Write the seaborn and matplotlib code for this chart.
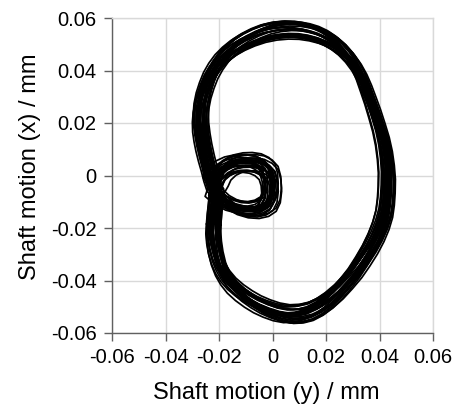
import numpy as np
import pandas as pd
import matplotlib
matplotlib.use("Agg")
import matplotlib.pyplot as plt
import seaborn as sns

# one revolution of the orbit: horizontal = y motion, vertical = x motion (mm)
orbit_y = [-0.0221, -0.0218, -0.0214, -0.0211,
           # small inner loop
           -0.0204, -0.0192, -0.0170, -0.0145, -0.0118, -0.0090, -0.0063, -0.0040, -0.0022, -0.0014,
           -0.0012, -0.0016, -0.0028, -0.0050, -0.0078, -0.0110, -0.0142, -0.0172, -0.0198,
           # big outer loop
           -0.0218, -0.0230, -0.0239, -0.0249, -0.0258, -0.0265, -0.0270, -0.0271, -0.0268, -0.0260,
           -0.0248, -0.0233, -0.0214, -0.0191, -0.0164, -0.0134, -0.0102, -0.0065, -0.0027, 0.0013,
           0.0054, 0.0092, 0.0128, 0.0163, 0.0197, 0.0229, 0.0259, 0.0286, 0.0309, 0.0329,
           0.0346, 0.0362, 0.0378, 0.0394, 0.0409, 0.0420, 0.0427, 0.0431, 0.0430, 0.0427,
           0.0421, 0.0408, 0.0390, 0.0367, 0.0340, 0.0311, 0.0278, 0.0245, 0.0209, 0.0173,
           0.0135, 0.0098, 0.0060, 0.0022, -0.0015, -0.0050, -0.0083, -0.0116, -0.0146, -0.0170,
           -0.0189, -0.0204, -0.0214, -0.0220, -0.0223, -0.0221]
orbit_x = [-0.0170, -0.0131, -0.0093, -0.0055,
           -0.0022, 0.0004, 0.0024, 0.0036, 0.0042, 0.0043, 0.0039, 0.0028, 0.0010, -0.0018,
           -0.0050, -0.0082, -0.0106, -0.0120, -0.0126, -0.0124, -0.0115, -0.0099, -0.0076,
           -0.0045, -0.0005, 0.0034, 0.0072, 0.0111, 0.0149, 0.0187, 0.0226, 0.0264, 0.0303,
           0.0340, 0.0377, 0.0410, 0.0441, 0.0468, 0.0492, 0.0512, 0.0530, 0.0544, 0.0553,
           0.0557, 0.0556, 0.0550, 0.0540, 0.0525, 0.0505, 0.0480, 0.0450, 0.0417, 0.0380,
           0.0340, 0.0296, 0.0251, 0.0200, 0.0149, 0.0098, 0.0047, -0.0004, -0.0055, -0.0100,
           -0.0144, -0.0189, -0.0233, -0.0278, -0.0322, -0.0365, -0.0405, -0.0442, -0.0475, -0.0501,
           -0.0520, -0.0529, -0.0531, -0.0524, -0.0511, -0.0495, -0.0475, -0.0451, -0.0424, -0.0394,
           -0.0361, -0.0323, -0.0284, -0.0246, -0.0208, -0.0170]
inner_loop = slice(4, 23)
loop_centre = (-0.010, -0.0045)

# cycle-to-cycle scatter of the recorded revolutions
scale_y = [1.00, 0.96, 1.04, 0.95, 1.05, 0.98, 1.02, 0.97, 1.03, 1.00, 0.95, 1.05, 0.98, 1.02, 1.00,
           0.96, 1.04, 0.98, 1.02, 0.95, 1.05, 1.00, 0.96, 1.04, 0.98, 1.02, 1.00, 0.97, 1.03, 1.01]
scale_x = [1.00, 1.02, 0.97, 1.04, 0.98, 0.95, 1.05, 1.00, 0.98, 1.03, 1.02, 0.96, 1.05, 0.95, 1.00,
           1.03, 0.98, 1.02, 0.96, 1.00, 1.04, 0.95, 1.02, 0.98, 1.05, 1.00, 0.97, 1.03, 0.98, 1.01]
shift_y = [0.0000, 0.0012, -0.0009, 0.0018, -0.0015, 0.0006, -0.0020, 0.0009, -0.0003, 0.0015,
           -0.0012, 0.0003, 0.0020, -0.0006, 0.0010, -0.0018, 0.0004, -0.0010, 0.0016, -0.0002,
           0.0007, -0.0013, 0.0019, -0.0004, 0.0013, -0.0016, 0.0001, -0.0007, 0.0009, -0.0019]
shift_x = [0.0000, -0.0009, 0.0015, 0.0006, -0.0018, 0.0012, -0.0003, 0.0020, -0.0012, 0.0003,
           0.0018, -0.0015, -0.0006, 0.0009, -0.0020, 0.0013, -0.0007, 0.0016, -0.0001, 0.0019,
           -0.0010, 0.0004, -0.0016, 0.0010, -0.0004, 0.0007, -0.0013, 0.0015, -0.0019, 0.0001]
loop_size = [1.05, 1.25, 0.90, 1.32, 0.86, 1.15, 0.95, 1.28, 0.88, 1.05, 1.20, 0.92, 1.30, 0.87, 1.10,
             1.00, 1.24, 0.91, 1.16, 0.94, 1.05, 1.28, 0.89, 1.12, 0.97, 1.34, 0.85, 1.20, 0.93, 1.07]

ticks = [-0.06, -0.04, -0.02, 0.0, 0.02, 0.04, 0.06]
tick_labels = ["-0.06", "-0.04", "-0.02", "0", "0.02", "0.04", "0.06"]

# build the table of all revolutions
rows = []
base_y = np.array(orbit_y)
base_x = np.array(orbit_x)
for i in range(len(scale_y)):
    yy = base_y.copy()
    xx = base_x.copy()
    yy[inner_loop] = loop_centre[0] + (yy[inner_loop] - loop_centre[0]) * loop_size[i]
    xx[inner_loop] = loop_centre[1] + (xx[inner_loop] - loop_centre[1]) * loop_size[i]
    yy = yy * scale_y[i] + shift_y[i]
    xx = xx * scale_x[i] + shift_x[i]
    for k in range(len(yy)):
        rows.append({"cycle": i, "order": k, "y": yy[k], "x": xx[k]})
df = pd.DataFrame(rows)

sns.set_theme(style="whitegrid")
plt.rcParams["font.family"] = ["Liberation Sans", "DejaVu Sans"]
plt.rcParams["axes.unicode_minus"] = False
plt.rcParams["text.color"] = "black"
plt.rcParams["axes.labelcolor"] = "black"

fig = plt.figure(figsize=(4.58, 4.08), dpi=100)
ax = fig.add_axes([112 / 458, 75 / 408, 321 / 458, 315 / 408])

sns.lineplot(data=df, x="y", y="x", units="cycle", estimator=None, sort=False,
             color="black", linewidth=1.25, ax=ax)

ax.set_xlim(-0.06, 0.06)
ax.set_ylim(-0.06, 0.06)
ax.set_xticks(ticks)
ax.set_xticklabels(tick_labels)
ax.set_yticks(ticks)
ax.set_yticklabels(tick_labels)
ax.grid(True, color="#d9d9d9", linewidth=1.0)
ax.set_axisbelow(True)

for side in ["top", "right"]:
    ax.spines[side].set_color("#d9d9d9")
    ax.spines[side].set_linewidth(1.0)
for side in ["left", "bottom"]:
    ax.spines[side].set_color("#606060")
    ax.spines[side].set_linewidth(1.0)

ax.tick_params(axis="both", which="major", direction="out", length=6, width=1,
               color="#606060", labelsize=14.5, labelcolor="black", pad=5,
               left=True, bottom=True)

ax.set_xlabel("Shaft motion (y) / mm", fontsize=17)
ax.set_ylabel("Shaft motion (x) / mm", fontsize=17)
ax.xaxis.set_label_coords(0.481, -0.155)
ax.yaxis.set_label_coords(-0.222, 0.527)

fig.savefig("out.png", dpi=100)
